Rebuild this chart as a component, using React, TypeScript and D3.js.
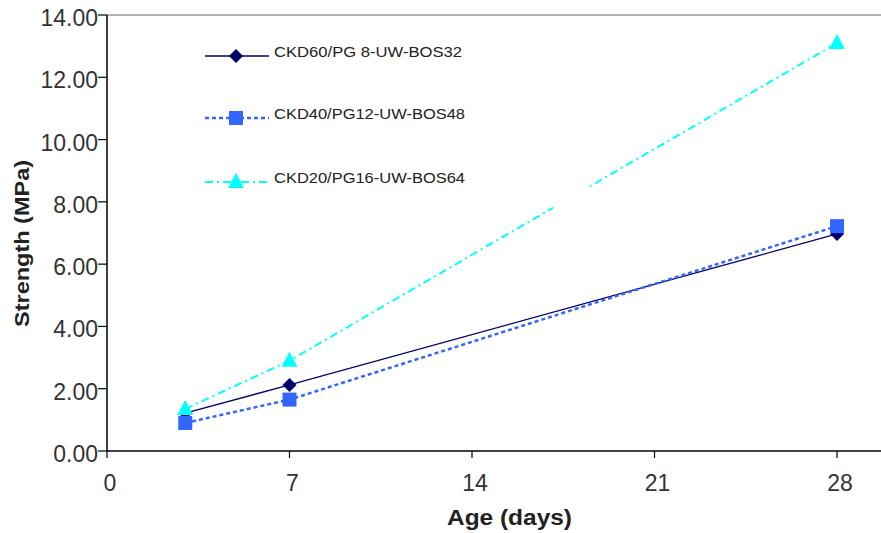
import React from "react";
import * as d3 from "d3";

const ages = [3, 7, 28];
const seriesNames = ["CKD60/PG 8-UW-BOS32", "CKD40/PG12-UW-BOS48", "CKD20/PG16-UW-BOS64"];
const s1 = [1.22, 2.12, 6.97];
const s2 = [0.9, 1.65, 7.22];
const s3 = [1.35, 2.9, 13.1];
const xTicks = [0, 7, 14, 21, 28];
const yTicks = [0, 2, 4, 6, 8, 10, 12, 14];

const W = 881, H = 533;
const x = d3.scaleLinear().domain([0, 28]).range([107, 837]);
const y = d3.scaleLinear().domain([0, 14]).range([451, 15]);

const styles = [
  { color: "#000066", dash: "", width: 1.3, marker: "diamond" },
  { color: "#3366FF", dash: "4,3", width: 2.5, marker: "square" },
  { color: "#00FFFF", dash: "8,4,2,4", width: 2, marker: "triangle" },
];

function Marker({ type, cx, cy, color }: { type: string; cx: number; cy: number; color: string }) {
  if (type === "diamond") {
    return <path d={`M${cx},${cy - 7}L${cx + 7},${cy}L${cx},${cy + 7}L${cx - 7},${cy}Z`} fill={color} />;
  }
  if (type === "square") {
    return <rect x={cx - 7} y={cy - 7} width={14} height={14} fill={color} />;
  }
  return <path d={`M${cx},${cy - 9}L${cx + 8},${cy + 6}L${cx - 8},${cy + 6}Z`} fill={color} />;
}

export default function App() {
  const data = [s1, s2, s3];
  const line = d3.line<[number, number]>().x((d) => x(d[0])).y((d) => y(d[1]));
  const legendY = [56, 118, 182];
  const legendLen = [188, 191, 191];
  return (
    <svg width={W} height={H} style={{ position: "absolute", left: 0, top: 0, background: "#fff" }} fontFamily="Arial, Liberation Sans, sans-serif">
      <line x1={107} x2={881} y1={15} y2={15} stroke="#999" strokeWidth={1.5} />
      {data.map((vals, i) => (
        <path key={i} d={line(ages.map((a, j) => [a, vals[j]]) as [number, number][]) || ""} fill="none"
          stroke={styles[i].color} strokeWidth={styles[i].width} strokeDasharray={styles[i].dash} />
      ))}
      <rect x={553} y={180} width={36} height={34} fill="#fff" />
      {data.map((vals, i) =>
        ages.map((a, j) => <Marker key={`${i}-${j}`} type={styles[i].marker} cx={x(a)} cy={y(vals[j])} color={styles[i].color} />)
      )}
      {/* axes */}
      <line x1={107} x2={107} y1={15} y2={451} stroke="#000" strokeWidth={1.5} />
      <line x1={107} x2={881} y1={451} y2={451} stroke="#000" strokeWidth={1.5} />
      {yTicks.map((t) => (
        <g key={t}>
          <line x1={98} x2={107} y1={y(t)} y2={y(t)} stroke="#000" strokeWidth={1.2} />
          <text x={98} y={y(t) + 11} textAnchor="end" fontSize={23} fill="#333">{t.toFixed(2)}</text>
        </g>
      ))}
      {xTicks.map((t) => (
        <g key={t}>
          <line x1={x(t)} x2={x(t)} y1={451} y2={458} stroke="#000" strokeWidth={1.2} />
          <text x={x(t) + 3} y={491} textAnchor="middle" fontSize={23} fill="#333">{t}</text>
        </g>
      ))}
      <text x={509.5} y={525} textAnchor="middle" fontSize={22} fontWeight="bold" fill="#222"
        textLength={125} lengthAdjust="spacingAndGlyphs">Age (days)</text>
      <text transform="translate(29,243.5) rotate(-90)" textAnchor="middle" fontSize={21} fontWeight="bold" fill="#222"
        textLength={167} lengthAdjust="spacingAndGlyphs">Strength (MPa)</text>
      {/* legend */}
      {seriesNames.map((n, i) => (
        <g key={n}>
          <line x1={205} x2={269} y1={legendY[i]} y2={legendY[i]} stroke={styles[i].color}
            strokeWidth={styles[i].width} strokeDasharray={styles[i].dash} />
          <Marker type={styles[i].marker} cx={236} cy={legendY[i]} color={styles[i].color} />
          <text x={274} y={legendY[i] + 1} fontSize={14.5} fill="#222"
            textLength={legendLen[i]} lengthAdjust="spacingAndGlyphs">{n}</text>
        </g>
      ))}
    </svg>
  );
}
